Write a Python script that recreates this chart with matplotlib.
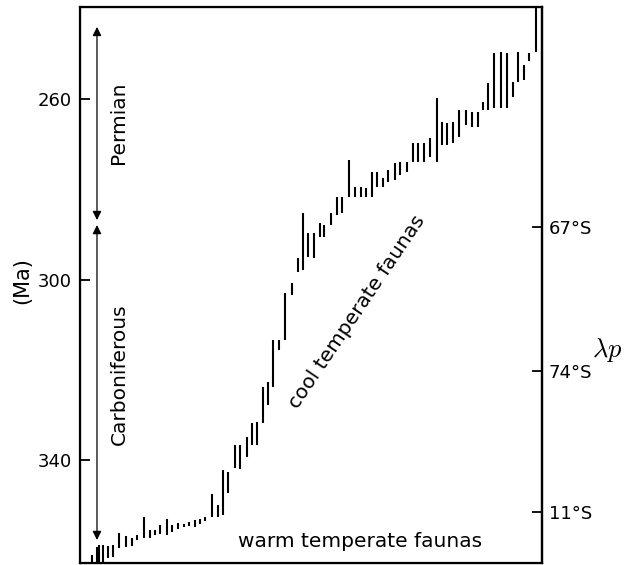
import matplotlib.pyplot as plt

plt.rcParams["font.family"] = ["DejaVu Sans"]
plt.rcParams["mathtext.fontset"] = "cm"

# horizontal position of each range (arbitrary units, no x scale on the chart)
x_pos = [12, 17, 19, 23, 28, 33, 39, 46, 52, 57, 64, 70, 75, 80, 87, 92, 98,
         104, 109, 115, 120, 125, 132, 138, 143, 148, 155, 160, 167, 172, 177,
         183, 188, 193, 199, 205, 212, 218, 223, 228, 234, 240, 244, 251, 257,
         262, 269, 275, 281, 286, 292, 297, 303, 308, 315, 320, 327, 333, 338,
         344, 350, 357, 362, 367, 373, 379, 386, 392, 398, 403, 408, 414, 421,
         427, 433, 438, 444, 449, 456]

# younger end of each range (Ma)
top_ma = [361.1, 359.3, 358.8, 358.8, 359.1, 358.8, 356.2, 356.8, 357.3, 356.6,
          352.6, 355.5, 355.5, 354.4, 353.1, 354.4, 354.0, 354.2, 353.7, 353.3,
          353.1, 352.6, 347.5, 350.0, 342.2, 342.7, 336.7, 336.7, 334.9, 331.8,
          331.6, 323.8, 322.7, 313.4, 313.4, 303.0, 300.8, 295.2, 285.3, 289.7,
          289.7, 287.5, 287.9, 285.3, 281.7, 281.7, 273.5, 279.5, 279.5, 279.7,
          276.2, 276.2, 277.5, 275.7, 274.2, 274.0, 274.0, 269.8, 269.8, 269.8,
          268.6, 259.8, 265.1, 265.3, 265.1, 262.4, 262.4, 262.9, 262.9, 260.7,
          256.5, 249.8, 249.6, 249.8, 256.2, 249.6, 252.5, 249.8, 239.6]

# older end of each range (Ma)
base_ma = [363.0, 363.0, 363.0, 363.0, 361.7, 361.5, 359.5, 359.3, 359.1, 357.7,
           357.3, 357.3, 356.6, 356.4, 356.6, 356.0, 355.3, 354.8, 354.6, 354.8,
           354.2, 353.5, 352.6, 352.6, 352.2, 347.3, 341.8, 342.0, 339.3, 336.7,
           336.7, 331.8, 327.8, 323.8, 315.6, 313.4, 303.4, 298.3, 297.9, 295.0,
           295.2, 290.6, 290.6, 287.9, 285.7, 285.3, 281.7, 281.7, 281.7, 281.7,
           281.7, 279.5, 279.5, 278.4, 277.9, 276.8, 276.2, 274.0, 274.0, 274.0,
           272.9, 274.0, 270.2, 270.2, 269.8, 268.4, 265.8, 266.2, 266.2, 262.4,
           262.4, 262.0, 262.0, 262.0, 259.6, 256.2, 255.8, 251.5, 249.6]

left_ticks = [260, 300, 340]
right_ticks = [288.4, 320.3, 351.5]
right_labels = ["67°S", "74°S", "11°S"]

periods = ["Permian", "Carboniferous"]
period_start = [244.0, 287.9]
period_end = [286.8, 357.7]
period_text_y = [265.3, 321.0]


def main():
    fig = plt.figure(figsize=(6.43, 5.65), dpi=100)
    ax = fig.add_axes([0.1244, 0.0035, 0.7185, 0.984])

    ax.vlines(x_pos, top_ma, base_ma, colors="black", linewidth=1.5)

    ax.set_xlim(0, 462)
    ax.set_ylim(362.8, 239.6)
    ax.set_xticks([])
    ax.set_yticks(left_ticks)
    ax.tick_params(axis="y", direction="in", length=7, width=1.3,
                   labelsize=13, pad=6)
    for sp in ax.spines.values():
        sp.set_linewidth(1.6)

    ax2 = ax.twinx()
    ax2.set_ylim(362.8, 239.6)
    ax2.set_yticks(right_ticks)
    ax2.set_yticklabels(right_labels)
    ax2.tick_params(axis="y", direction="in", length=7, width=1.3,
                    labelsize=13, pad=5)
    ax2.spines["right"].set_linewidth(1.6)

    # period arrows
    for name, y0, y1, yt in zip(periods, period_start, period_end, period_text_y):
        ax.annotate("", xy=(17, y0), xytext=(17, y1),
                    arrowprops=dict(arrowstyle="<|-|>", color="black",
                                    lw=0.9, mutation_scale=13,
                                    shrinkA=0, shrinkB=0))
        ax.text(39, yt, name, rotation=90, ha="center", va="center",
                fontsize=14.5)

    ax.text(277, 307.2, "cool temperate faunas", rotation=56,
            ha="center", va="center", fontsize=14.5)
    ax.text(280, 358.0, "warm temperate faunas", ha="center", va="center",
            fontsize=14.5)

    fig.text(0.034, 0.503, "(Ma)", rotation=90, ha="center", va="center",
             fontsize=15)
    fig.text(0.944, 0.381, r"$\lambda p$", ha="center", va="center",
             fontsize=19)

    fig.savefig("out.png", dpi=100)
    plt.close(fig)


if __name__ == "__main__":
    main()
